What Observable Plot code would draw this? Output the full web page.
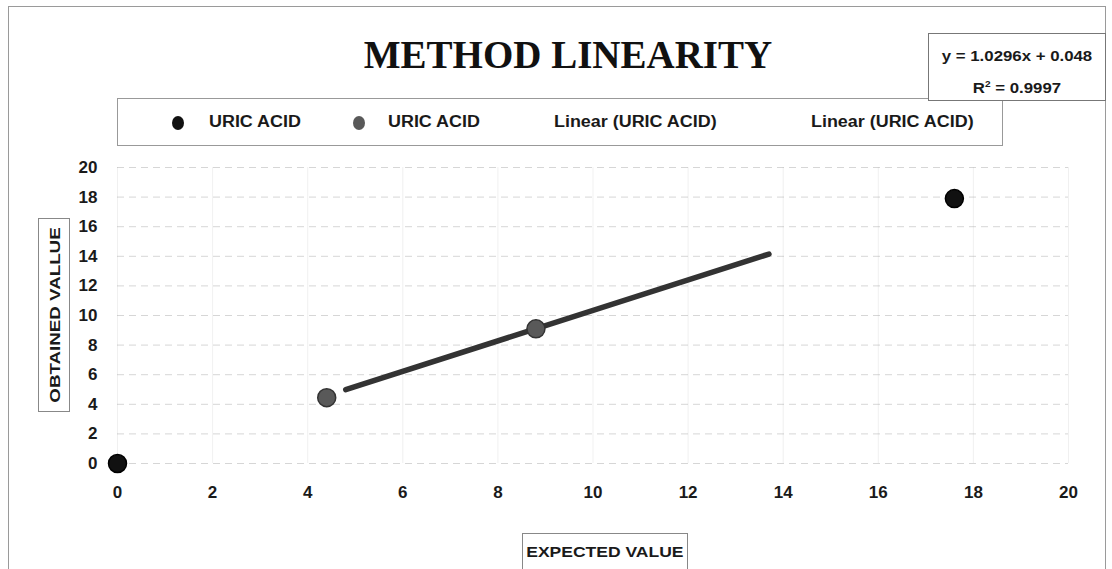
<!DOCTYPE html>
<html><head><meta charset="utf-8">
<script src="https://cdn.jsdelivr.net/npm/d3@7"></script>
<script src="https://cdn.jsdelivr.net/npm/@observablehq/plot@0.6"></script>
<style>
body{margin:0;background:#fff;}
#wrap{position:relative;width:1112px;height:569px;overflow:hidden;font-family:"Liberation Sans",Arial,sans-serif;color:#1a1a1a;}
#chart{position:absolute;left:0;top:0;}
#frame{position:absolute;left:8px;top:6px;width:1096px;height:580px;border:1px solid #9a9a9a;}
#title{position:absolute;left:0;width:1136px;top:32px;text-align:center;font:bold 39px "Liberation Serif",serif;color:#111;}
#eq{position:absolute;left:928px;top:33px;width:178px;height:68px;border:1px solid #777;background:#fff;text-align:center;font-weight:bold;font-size:15px;line-height:28px;padding-top:8px;box-sizing:border-box;}
#eq div{transform:scaleX(1.12);}
#legend{position:absolute;left:117px;top:98px;width:886px;height:48px;border:1px solid #999;background:#fff;box-sizing:border-box;}
.li{position:absolute;top:14px;font-weight:bold;font-size:16px;white-space:nowrap;transform-origin:0 50%;transform:scaleX(1.12);}
.sw{position:absolute;top:17px;width:12px;height:14px;border-radius:50%;}
#ylab{position:absolute;left:38px;top:218px;width:32px;height:194px;border:1px solid #888;box-sizing:border-box;background:#fff;}
#ylab span{position:absolute;left:50%;top:50%;transform:translate(-50%,-50%) rotate(-90deg) scaleX(1.25);white-space:nowrap;font-weight:bold;font-size:15px;}
#xlab{position:absolute;left:522px;top:533px;width:166px;height:40px;border:1px solid #888;box-sizing:border-box;background:#fff;text-align:center;font-weight:bold;font-size:14px;padding-top:10px;}
#xlab span{display:inline-block;transform:scaleX(1.25);}
</style></head>
<body>
<div id="wrap">
  <div id="chart"></div>
  <div id="frame"></div>
  <div id="title">METHOD LINEARITY</div>
  <div id="legend"></div>
  <div id="eq"></div>
  <div id="ylab"><span>OBTAINED VALLUE</span></div>
  <div id="xlab"><span>EXPECTED VALUE</span></div>
</div>
<script>
// Data
const seriesNames = ["URIC ACID", "URIC ACID", "Linear (URIC ACID)", "Linear (URIC ACID)"];
const series1X = [0, 17.6];
const series1Y = [0, 17.9];
const series2X = [4.4, 8.8];
const series2Y = [4.45, 9.1];
const trendSlope = 1.0296;
const trendIntercept = 0.048;
const trendR2 = 0.9997;
const trendX = [4.8, 13.7];
const xTicks = [0, 2, 4, 6, 8, 10, 12, 14, 16, 18, 20];
const yTicks = [0, 2, 4, 6, 8, 10, 12, 14, 16, 18, 20];

const s1 = series1X.map((x, i) => ({x, y: series1Y[i]}));
const s2 = series2X.map((x, i) => ({x, y: series2Y[i]}));
const trend = trendX.map(x => ({x, y: trendSlope * x + trendIntercept}));

const plot = Plot.plot({
  width: 1112, height: 569,
  marginLeft: 117, marginRight: 44, marginTop: 167, marginBottom: 106,
  x: {domain: [0, 20], label: null},
  y: {domain: [0, 20], label: null},
  style: {background: "transparent", fontFamily: "'Liberation Sans', Arial, sans-serif", color: "#1a1a1a"},
  marks: [
    Plot.gridX(xTicks, {stroke: "#ccc", strokeOpacity: 0.3}),
    Plot.gridY(yTicks, {stroke: "#999", strokeOpacity: 0.4, strokeDasharray: "7,5"}),
    Plot.axisX(xTicks, {tickSize: 0, tickPadding: 22, fontSize: 17, fontWeight: "bold", label: null}),
    Plot.axisY(yTicks, {tickSize: 0, tickPadding: 20, fontSize: 17, fontWeight: "bold", label: null}),
    Plot.line(trend, {x: "x", y: "y", stroke: "#333", strokeWidth: 5.5}),
    Plot.dot(s1, {x: "x", y: "y", r: 9, fill: "#111", stroke: "#000"}),
    Plot.dot(s2, {x: "x", y: "y", r: 9, fill: "#595959", stroke: "#333", strokeWidth: 1.5})
  ]
});
document.getElementById("chart").appendChild(plot);

document.getElementById("eq").innerHTML =
  `<div>y = ${trendSlope}x + ${trendIntercept}</div><div>R<sup style="font-size:9px">2</sup> = ${trendR2}</div>`;

const legendItems = [
  {label: seriesNames[0], sw: "#111", swLeft: 54, textLeft: 91},
  {label: seriesNames[1], sw: "#595959", swLeft: 235, textLeft: 270},
  {label: seriesNames[2], sw: null, textLeft: 436},
  {label: seriesNames[3], sw: null, textLeft: 693}
];
const lg = document.getElementById("legend");
legendItems.forEach(d => {
  if (d.sw) {
    const s = document.createElement("div");
    s.className = "sw"; s.style.left = d.swLeft + "px"; s.style.background = d.sw;
    lg.appendChild(s);
  }
  const t = document.createElement("div");
  t.className = "li"; t.style.left = d.textLeft + "px"; t.textContent = d.label;
  lg.appendChild(t);
});
</script>
</body></html>
